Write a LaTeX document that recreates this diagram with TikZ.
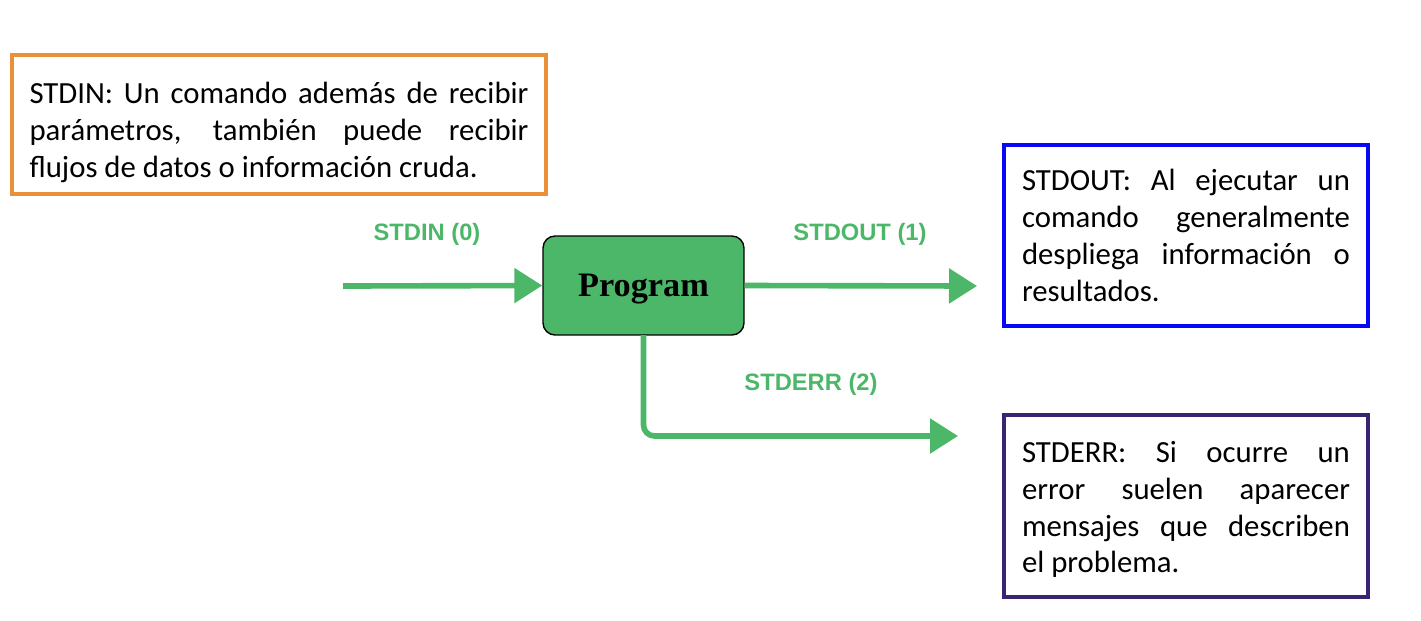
\documentclass[tikz,border=0pt]{standalone}
\usepackage{fontspec}
\setmainfont{Carlito}
\newfontfamily\labfont{Liberation Sans}
\newfontfamily\progfont{Liberation Serif}
\usepackage{tikz}
\usetikzlibrary{arrows.meta}
\definecolor{flowgreen}{RGB}{76,183,104}
\definecolor{inorange}{RGB}{233,145,56}
\definecolor{outblue}{RGB}{8,8,245}
\definecolor{errpurple}{RGB}{56,36,112}
\tikzset{
  note/.style={draw, line width=2.3pt, fill=white, align=justify,
    inner sep=0.35cm, font=\fontsize{17.5}{21}\selectfont},
  flow/.style={draw=flowgreen, line width=3.2pt,
    -{Triangle[length=0.56cm,width=0.68cm]}},
  flowlabel/.style={text=flowgreen, font=\labfont\bfseries\fontsize{13.5}{15}\selectfont}
}
\begin{document}
\begin{tikzpicture}[x=0.02cm,y=-0.02cm]
        \useasboundingbox (0,0) rectangle (1421,620);
        % program box
        \node[draw=black, fill=flowgreen, rounded corners=0.24cm, line width=0.8pt,
          minimum width=4.02cm, minimum height=1.98cm, text depth=0pt,
          font=\progfont\bfseries\fontsize{19.5}{22}\selectfont] (P) at (643.5,285.5) {Program};
        \coordinate (in) at (343,286);
        \coordinate (out) at (977,286);
        \coordinate (err) at (958,436);
        \draw[flow] (in) -- (P.west);
        \draw[flow] (P.east) -- (out);
        \draw[flow, rounded corners=0.22cm] (P.south |- 0,335) |- (err);
        \node[flowlabel] (L0) at (427,234) {STDIN (0)};
        \node[flowlabel] (L1) at (860,234) {STDOUT (1)};
        \node[flowlabel] (L2) at (811,384) {STDERR (2)};
        % notes
        \node[note, draw=inorange, text width=9.98cm, minimum height=2.78cm,
          inner ysep=0.1cm, text height=21pt] (Nin) at (279,124.5)
          {STDIN: Un comando además de recibir\linebreak parámetros, también puede recibir\linebreak flujos de datos o información cruda.};
        \node[note, draw=outblue, text width=6.56cm, minimum height=3.62cm, inner xsep=0.36cm] (Nout) at (1186,235.5)
          {STDOUT: Al ejecutar un\linebreak comando generalmente\linebreak despliega información o\linebreak resultados.};
        \node[note, draw=errpurple, text width=6.56cm, minimum height=3.64cm, inner xsep=0.36cm,
          inner ysep=0.1cm, text height=16pt] (Nerr) at (1186,506)
          {STDERR: Si ocurre un\linebreak error suelen aparecer\linebreak mensajes que describen\linebreak el problema.};
\end{tikzpicture}
\end{document}
